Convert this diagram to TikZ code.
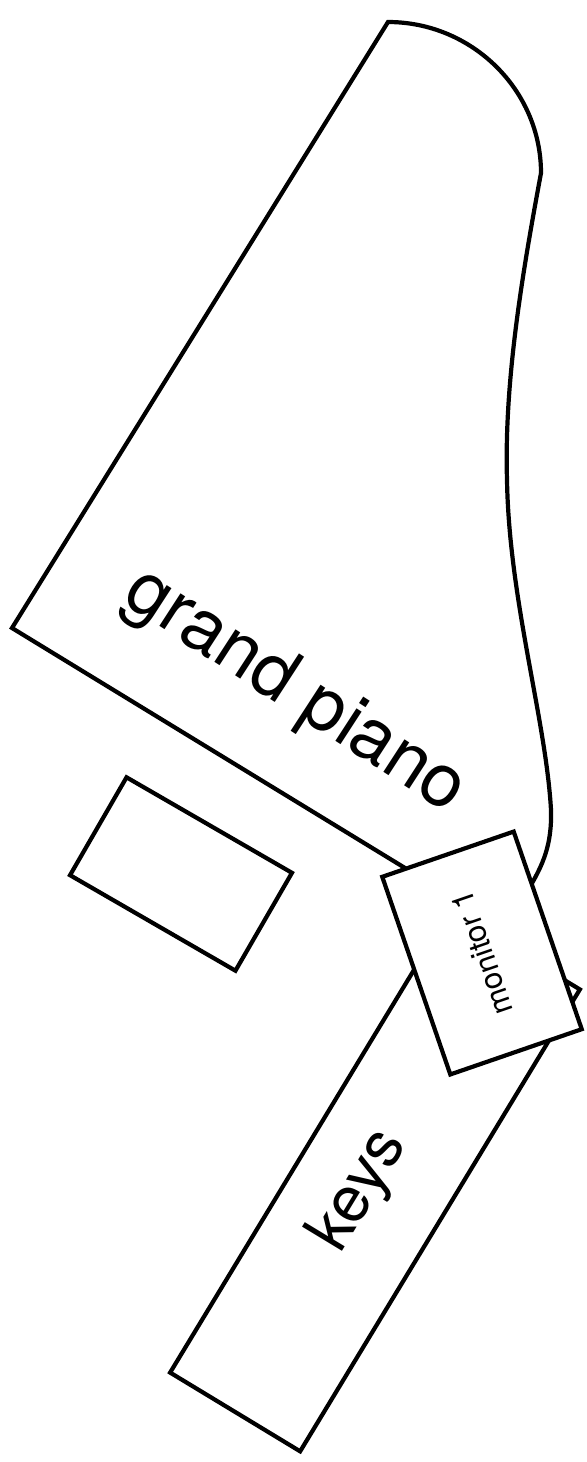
\documentclass[tikz,border=0pt]{standalone}
\usepackage{fontspec}
\setmainfont{TeX Gyre Heros}
\usetikzlibrary{positioning}
\tikzset{
  outline/.style={draw,line width=2.1pt,line join=miter},
  piece/.style={outline,fill=white,inner sep=0pt},
}

\begin{document}
\begin{tikzpicture}[x=0.5pt,y=-0.5pt]
\useasboundingbox (0,0) rectangle (586,1462);
% piano body, tail end hidden under the monitor
\draw[outline] (12,628) coordinate (tail) -- (388,22) coordinate (nose)
  .. controls (472,22) and (541,90) .. (541,173)
  .. controls (523,270) and (504,380) .. (507,480)
  .. controls (509,600) and (546,720) .. (551,810)
  .. controls (552,845) and (543,865) .. (528,890)
  -- (500,926) -- cycle;
\node[rotate=-33,font=\fontsize{37}{40}\selectfont] (piano) at (295,692) {grand piano};
\node[piece,rotate=-30,minimum width=95.5pt,minimum height=56.5pt] (bench) at (181,874) {};
\node[piece,rotate=58.8,minimum width=270pt,minimum height=76pt] (keys) at (375,1181) {};
\node[rotate=58.8,font=\fontsize{32}{34}\selectfont] (keyslabel) at (360,1191) {keys};
\node[piece,rotate=109,minimum width=104.5pt,minimum height=69.5pt,font=\fontsize{15.5}{17}\selectfont] (monitor) at (482,953) {monitor 1};
\end{tikzpicture}
\end{document}
